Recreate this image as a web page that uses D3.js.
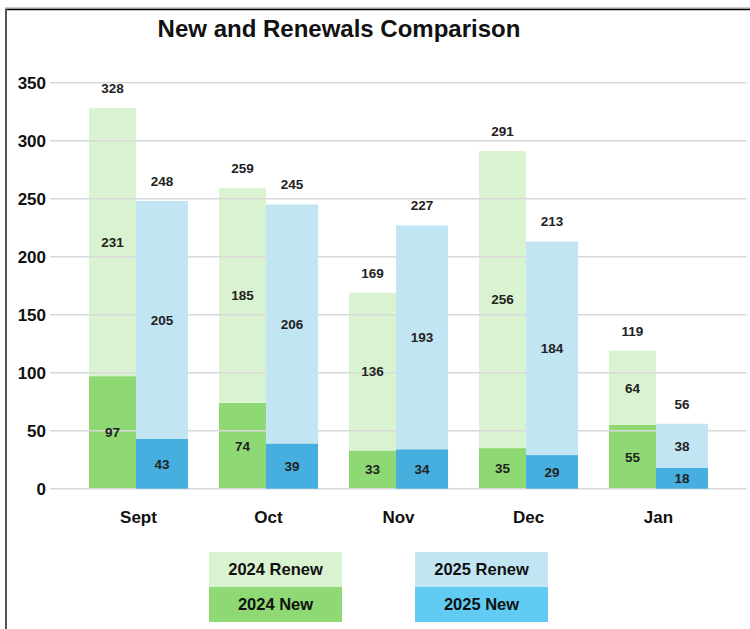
<!DOCTYPE html>
<html>
<head>
<meta charset="utf-8">
<script src="https://cdn.jsdelivr.net/npm/d3@7"></script>
<style>
  html, body { margin: 0; padding: 0; background: #fff; }
  svg { display: block; font-family: "Liberation Sans", Arial, sans-serif; }
</style>
</head>
<body>
<svg id="chart" width="750" height="629"></svg>
<script>
// CHART DATA
const months = ['Sept', 'Oct', 'Nov', 'Dec', 'Jan'];
const new2024 = [97, 74, 33, 35, 55];
const renew2024 = [231, 185, 136, 256, 64];
const new2025 = [43, 39, 34, 29, 18];
const renew2025 = [205, 206, 193, 184, 38];
const yTicks = [0, 50, 100, 150, 200, 250, 300, 350];
const legendLabels = ['2024 Renew', '2024 New', '2025 Renew', '2025 New'];

(function() {
  const svg = d3.select('#chart');

  const colors = {
    renew24: '#d9f2d0',
    new24: '#8ed973',
    renew25: '#c2e5f4',
    new25: '#46afe0',
    new25Legend: '#61cbf3'
  };

  // FRAME (TOP AND LEFT EDGE ONLY)
  svg.append('line').attr('x1', 5).attr('x2', 750).attr('y1', 8).attr('y2', 8)
    .attr('stroke', '#999').attr('stroke-width', 1);
  svg.append('line').attr('x1', 5).attr('x2', 750).attr('y1', 9.5).attr('y2', 9.5)
    .attr('stroke', '#000').attr('stroke-width', 1.5);
  svg.append('line').attr('x1', 6).attr('x2', 6).attr('y1', 9).attr('y2', 629)
    .attr('stroke', '#555').attr('stroke-width', 2);

  // TITLE
  svg.append('text')
    .attr('x', 339).attr('y', 37)
    .attr('text-anchor', 'middle')
    .attr('font-size', 24).attr('font-weight', 'bold')
    .attr('fill', '#111')
    .text('New and Renewals Comparison');

  // SCALES
  const x = d3.scaleBand().domain(months).range([73.5, 723.5])
    .paddingInner(0.238).paddingOuter(0.119);
  const y = d3.scaleLinear().domain([0, 350]).range([488.7, 82.7]);
  const w24 = x.bandwidth() * 0.475;
  const w25 = x.bandwidth() - w24;

  const rows = months.map((m, i) => ({
    month: m,
    new24: new2024[i], renew24: renew2024[i],
    new25: new2025[i], renew25: renew2025[i]
  }));

  const barLayer = svg.append('g');
  const gridLayer = svg.append('g');
  const bar25Layer = svg.append('g');
  const labelLayer = svg.append('g');

  // 2024 BARS (NEW AT BOTTOM, RENEW STACKED ON TOP)
  barLayer.selectAll('rect.new24').data(rows).enter().append('rect')
    .attr('x', d => x(d.month)).attr('width', w24)
    .attr('y', d => y(d.new24)).attr('height', d => y(0) - y(d.new24))
    .attr('fill', colors.new24);
  barLayer.selectAll('rect.renew24').data(rows).enter().append('rect')
    .attr('x', d => x(d.month)).attr('width', w24)
    .attr('y', d => y(d.new24 + d.renew24)).attr('height', d => y(d.new24) - y(d.new24 + d.renew24))
    .attr('fill', colors.renew24);

  // GRIDLINES + Y LABELS
  gridLayer.selectAll('line').data(yTicks).enter().append('line')
    .attr('x1', 50).attr('x2', 747)
    .attr('y1', d => y(d)).attr('y2', d => y(d))
    .attr('stroke', '#d9d9d9').attr('stroke-width', 1.5);
  gridLayer.selectAll('text').data(yTicks).enter().append('text')
    .attr('x', 46).attr('y', d => y(d)).attr('dy', '0.36em')
    .attr('text-anchor', 'end')
    .attr('font-size', 17).attr('font-weight', 'bold').attr('fill', '#111')
    .text(d => d);

  // 2025 BARS
  bar25Layer.selectAll('rect.new25').data(rows).enter().append('rect')
    .attr('x', d => x(d.month) + w24).attr('width', w25)
    .attr('y', d => y(d.new25)).attr('height', d => y(0) - y(d.new25))
    .attr('fill', colors.new25);
  bar25Layer.selectAll('rect.renew25').data(rows).enter().append('rect')
    .attr('x', d => x(d.month) + w24).attr('width', w25)
    .attr('y', d => y(d.new25 + d.renew25)).attr('height', d => y(d.new25) - y(d.new25 + d.renew25))
    .attr('fill', colors.renew25);

  // BAR VALUE LABELS
  function addLabels(key, offset, width, getLo, getHi, total) {
    labelLayer.selectAll('text.' + key).data(rows).enter().append('text')
      .attr('class', key)
      .attr('x', d => x(d.month) + offset + width / 2)
      .attr('y', d => total ? y(getHi(d)) - 20 : (y(getLo(d)) + y(getHi(d))) / 2)
      .attr('dy', '0.36em')
      .attr('text-anchor', 'middle')
      .attr('font-size', 13.5).attr('font-weight', 'bold').attr('fill', '#222')
      .text(d => total ? getHi(d) : getHi(d) - getLo(d));
  }
  addLabels('n24', 0, w24, d => 0, d => d.new24, false);
  addLabels('r24', 0, w24, d => d.new24, d => d.new24 + d.renew24, false);
  addLabels('t24', 0, w24, d => 0, d => d.new24 + d.renew24, true);
  addLabels('n25', w24, w25, d => 0, d => d.new25, false);
  addLabels('r25', w24, w25, d => d.new25, d => d.new25 + d.renew25, false);
  addLabels('t25', w24, w25, d => 0, d => d.new25 + d.renew25, true);

  // CATEGORY LABELS
  svg.append('g').selectAll('text').data(months).enter().append('text')
    .attr('x', d => x(d) + x.bandwidth() / 2).attr('y', 523)
    .attr('text-anchor', 'middle')
    .attr('font-size', 17).attr('font-weight', 'bold').attr('fill', '#111')
    .text(d => d);

  // LEGEND
  const legendItems = [
    { label: legendLabels[0], color: colors.renew24, x: 209, y: 552 },
    { label: legendLabels[1], color: colors.new24, x: 209, y: 587 },
    { label: legendLabels[2], color: colors.renew25, x: 415, y: 552 },
    { label: legendLabels[3], color: colors.new25Legend, x: 415, y: 587 }
  ];
  const legend = svg.append('g');
  legend.selectAll('rect').data(legendItems).enter().append('rect')
    .attr('x', d => d.x).attr('y', d => d.y)
    .attr('width', 133).attr('height', 35)
    .attr('fill', d => d.color);
  legend.selectAll('text').data(legendItems).enter().append('text')
    .attr('x', d => d.x + 66.5).attr('y', d => d.y + 17.5).attr('dy', '0.36em')
    .attr('text-anchor', 'middle')
    .attr('font-size', 16.5).attr('font-weight', 'bold').attr('fill', '#111')
    .text(d => d.label);
})();
</script>
</body>
</html>
